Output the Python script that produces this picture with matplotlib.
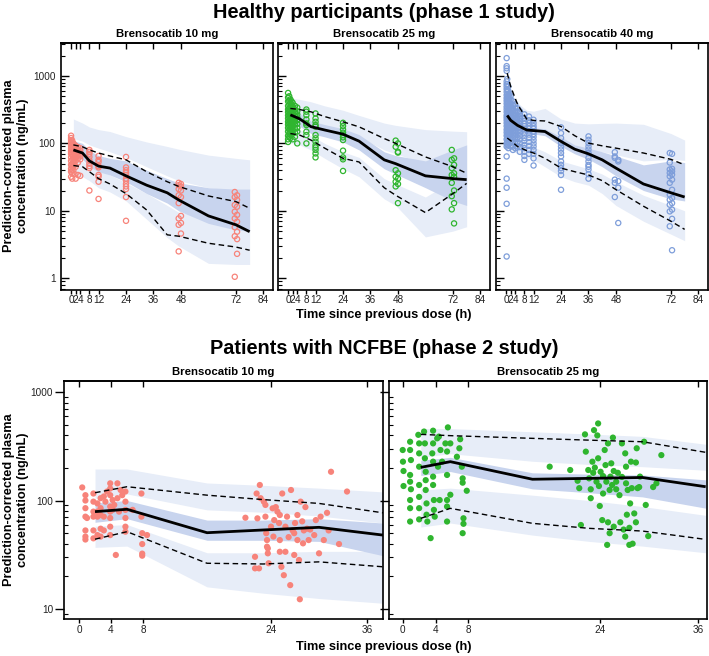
import numpy as np
import matplotlib
matplotlib.use("Agg")
import matplotlib.pyplot as plt
from matplotlib.ticker import LogLocator, NullFormatter

plt.rcParams['font.family'] = ['Liberation Sans', 'DejaVu Sans']

# colours
red = '#F7837A'
green = '#2FB52F'
blue = '#7E9EDA'
band_light = '#E7EDF8'
band_dark = '#C8D4EE'

# ---------------- healthy participants (phase 1) ----------------
# Brensocatib 10 mg
hp10_t = [1, 5, 8, 12, 17, 24, 33, 42, 47, 60, 72, 78]
hp10_med = [80, 72, 55, 46, 43, 33, 24, 18.5, 14.5, 8.4, 6.2, 4.9]
hp10_hi = [95, 89, 80, 72, 65, 57, 38, 27, 23, 16.6, 13.7, 10.9]
hp10_lo = [47, 45, 38, 30, 25, 18, 10.3, 4.4, 4.2, 3.3, 2.9, 2.6]
hp10_hiband_top = [230, 200, 175, 160, 150, 126, 105, 90, 82, 67, 60, 57]
hp10_hiband_bot = [118, 108, 95, 85, 75, 62, 45, 33, 28, 22, 20, 20]
hp10_medband_top = [110, 100, 78, 66, 60, 55, 40, 30, 26, 22, 21, 21]
hp10_medband_bot = [62, 58, 45, 38, 34, 27, 18, 13, 10, 6.5, 5.2, 5.0]
hp10_loband_top = [60, 55, 45, 40, 34, 26, 18, 12, 9.5, 8, 6, 5.2]
hp10_loband_bot = [34, 32, 28, 22, 19, 14, 7.5, 4, 3, 1.66, 1.6, 1.6]
hp10_obs_t = [0, 0.5, 1, 1.5, 2, 3, 4, 8, 12, 24, 47, 48, 71.5, 72.5]
hp10_obs_c = [
    [130, 120, 112, 105, 98, 92, 85, 80, 75, 70, 62, 55, 48, 42, 38, 32],
    [110, 95, 88, 78, 68, 58, 50, 45, 40, 36, 30],
    [100, 90, 82, 74, 66, 60, 52, 46, 40],
    [95, 86, 78, 72, 65, 56, 48, 35],
    [92, 84, 76, 70, 62, 55, 45, 30],
    [88, 80, 72, 66, 60, 52, 34],
    [85, 78, 70, 64, 58, 33],
    [80, 75, 70, 63, 56, 50, 46, 43, 20],
    [65, 57, 53, 46, 44, 34, 32, 27, 15],
    [63, 44, 40, 37, 34, 30, 28, 25, 23, 21, 16, 7.1],
    [26, 24, 21, 17, 13, 7.7, 6.2, 2.5],
    [25, 23, 20, 16, 8.4, 6.6, 4.6],
    [19, 16, 12.2, 9.7, 7.7, 5.7, 4.2, 1.05],
    [17, 14.5, 11.5, 8.7, 6.9, 4.9, 3.8, 2.3],
]

# Brensocatib 25 mg
hp25_t = [1, 5, 10, 16, 24, 31, 42, 47, 60, 72, 78]
hp25_med = [265, 232, 177, 158, 137, 108, 57, 50, 33, 30, 29]
hp25_hi = [330, 318, 294, 250, 209, 176, 118, 100, 63, 45, 36]
hp25_lo = [140, 133, 112, 85, 60, 53, 22, 17, 9.4, 18, 25.5]
hp25_hiband_top = [470, 450, 414, 360, 310, 260, 200, 185, 160, 152, 149]
hp25_hiband_bot = [250, 240, 215, 180, 150, 125, 80, 70, 50, 30, 25]
hp25_medband_top = [320, 280, 215, 190, 165, 135, 75, 66, 55, 80, 95]
hp25_medband_bot = [200, 180, 140, 125, 105, 80, 42, 35, 22, 14, 12]
hp25_loband_top = [170, 160, 130, 100, 75, 62, 30, 25, 16, 28, 35]
hp25_loband_bot = [100, 95, 80, 60, 42, 32, 15, 12, 4.1, 5, 5.8]
hp25_obs_t = [0, 0.5, 1, 1.5, 2, 3, 4, 8, 12, 24, 47, 48, 71.5, 72.5]
hp25_obs_c = [
    [560, 480, 420, 360, 320, 290, 260, 235, 210, 190, 170, 150, 130, 115, 105],
    [500, 430, 380, 330, 300, 270, 245, 220, 200, 180, 160, 140, 125],
    [450, 400, 350, 310, 280, 255, 230, 205, 185, 165, 145, 120],
    [420, 370, 330, 290, 265, 240, 215, 195, 175, 155, 135],
    [400, 350, 310, 280, 250, 225, 200, 180, 160, 140, 115],
    [360, 320, 290, 260, 235, 210, 190, 165, 145, 125],
    [340, 300, 270, 245, 220, 195, 170, 150, 100],
    [318, 295, 263, 227, 198, 187, 149, 133, 100],
    [278, 234, 209, 187, 177, 133, 119, 106, 94, 87, 80, 71, 62],
    [202, 181, 161, 144, 133, 123, 112, 78, 62, 58, 39],
    [110, 89, 40, 32, 27, 23],
    [100, 75, 73, 36, 30, 25, 13],
    [80, 57, 43, 34, 26, 16.5, 10.5],
    [60, 48, 36, 32, 20, 13, 6.5],
]

# Brensocatib 40 mg
hp40_t = [0.5, 2, 5, 9, 12, 17, 24, 30, 36, 42, 48, 60, 72, 78]
hp40_med = [260, 220, 185, 158, 155, 150, 107, 82, 70, 57, 43, 25, 18.5, 16]
hp40_hi = [1100, 700, 380, 230, 219, 215, 178, 130, 101, 92, 85, 72, 58, 48]
hp40_lo = [120, 110, 90, 78, 72, 60, 43, 38, 34, 28, 20.6, 11.7, 7.0, 5.3]
hp40_hiband_top = [600, 520, 400, 310, 300, 330, 230, 200, 195, 198, 200, 192, 140, 112]
hp40_hiband_bot = [300, 260, 200, 160, 150, 150, 120, 95, 80, 75, 68, 55, 58, 56]
hp40_medband_top = [290, 250, 210, 175, 170, 165, 125, 95, 85, 75, 65, 48, 55, 52]
hp40_medband_bot = [230, 195, 160, 140, 138, 130, 90, 70, 58, 45, 33, 20, 15, 14]
hp40_loband_top = [140, 130, 110, 95, 88, 75, 55, 48, 42, 35, 27, 17, 12, 10]
hp40_loband_bot = [90, 80, 70, 62, 57, 45, 32, 27, 24, 18, 12, 7, 4.5, 3.6]
hp40_obs_t = [0.25, 0.5, 1, 1.5, 2, 3, 4, 5, 6, 8, 10, 12, 24, 36, 47.5, 49, 71.5, 72.5]
hp40_obs_c = [
    [1840, 1400, 1300, 1190, 830, 760, 700, 640, 580, 520, 470, 430, 390, 350, 320,
     290, 260, 240, 220, 200, 180, 160, 145, 130, 115, 100, 90, 64, 30, 22, 12.7, 2.1],
    [900, 750, 620, 540, 480, 420, 380, 340, 300, 270, 245, 225, 205, 185, 165, 150,
     135, 120, 105, 95],
    [700, 600, 520, 460, 410, 370, 330, 300, 270, 245, 220, 200, 180, 160, 140, 125,
     110, 95, 85],
    [550, 480, 420, 380, 340, 300, 270, 245, 220, 200, 180, 160, 145, 130, 115, 100],
    [500, 440, 390, 350, 310, 280, 250, 225, 205, 185, 165, 150, 135, 120, 105, 90],
    [420, 370, 330, 300, 270, 245, 220, 200, 180, 165, 150, 135, 120, 105, 90, 80],
    [380, 340, 300, 270, 240, 220, 200, 180, 160, 145, 130, 115, 100, 85],
    [330, 290, 260, 235, 210, 190, 170, 150, 135, 120, 105, 90],
    [300, 270, 240, 215, 195, 175, 160, 145, 130, 115, 100, 88, 75],
    [270, 240, 215, 195, 180, 165, 150, 135, 120, 108, 95, 85, 75, 65, 57],
    [250, 220, 200, 180, 165, 150, 135, 120, 105, 92, 80, 70],
    [224, 200, 180, 165, 150, 138, 125, 112, 100, 90, 80, 70, 60, 47],
    [173, 142, 120, 101, 90, 81, 72, 64, 54, 48, 43, 39, 34, 20.5],
    [127, 113, 101, 90, 81, 72, 61, 54, 48, 45, 41, 35, 30],
    [74, 64, 61, 29, 26, 16],
    [57, 54, 27.5, 22, 6.6],
    [72, 52, 41, 36.5, 32.5, 26, 17.4, 14.6, 12.3, 9.8, 5.9],
    [70, 42, 38.5, 34.5, 29, 20.5, 15.5, 13, 10.4, 7.6, 2.6],
]

# ---------------- patients with NCFBE (phase 2) ----------------
# Brensocatib 10 mg
pt10_t = [2, 6, 16, 23, 30, 38]
pt10_med = [79, 83, 50.5, 53.5, 56.6, 48]
pt10_hi = [118, 134, 112, 102, 94, 77]
pt10_lo = [44, 51.6, 26.4, 26, 27.2, 24.5]
pt10_hiband_top = [195, 195, 145, 138, 130, 120]
pt10_hiband_bot = [105, 115, 82, 78, 72, 62]
pt10_medband_top = [95, 100, 66, 66, 68, 62]
pt10_medband_bot = [63, 68, 43, 43, 42, 31]
pt10_loband_top = [58, 60, 33, 33, 34, 34]
pt10_loband_bot = [37, 38, 16, 14, 12.5, 11.3]
pt10_obs_t = [0.4, 0.8, 0.8, 0.8, 0.8, 0.8, 0.8, 0.8, 1.0, 1.8, 1.8, 1.8, 1.8, 1.8,
              1.8, 2.3, 2.3, 2.3, 2.3, 2.7, 2.7, 2.7, 2.7, 2.7, 3.1, 3.1, 3.1, 3.3,
              3.5, 3.9, 3.9, 3.9, 3.9, 3.9, 3.9, 3.9, 3.9, 4.2, 4.2, 4.4, 4.6, 4.8,
              4.8, 5.0, 5.2, 5.4, 5.8, 5.8, 5.8, 5.8, 5.8, 5.8, 6.7, 7.8, 7.8, 7.9,
              7.9, 7.9, 7.9, 8.5,
              20.8, 22.3, 22.2, 22.6, 22.7, 23.1, 23.3, 23.3, 23.4, 23.5, 23.5, 23.6,
              23.6, 22.0, 22.0, 22.5, 23.7, 24.0, 24.2, 24.3, 24.4, 24.6, 24.8, 25.0,
              25.1, 25.1, 25.1, 25.3, 25.4, 25.6, 25.8, 25.8, 26.0, 26.2, 26.4, 26.5,
              26.7, 26.9, 26.9, 27.0, 27.3, 27.3, 27.5, 27.6, 27.7, 27.9, 28.0, 28.1,
              28.3, 28.5, 28.7, 28.9, 29.4, 29.6, 30.0, 30.2, 30.6, 31.0, 31.2, 31.5,
              32.5, 33.5]
pt10_obs_c = [132, 112, 100, 85, 71, 53, 46.5, 43.7, 69, 116, 97.6, 79, 71, 53, 44.8,
              94, 79, 71, 48, 105, 85, 73.5, 55, 46.5, 109, 71, 53, 97.6, 121, 144,
              129, 112, 88, 79, 69, 57.4, 48, 101, 82, 91, 31.5, 144, 105, 79, 125,
              112, 121, 97.6, 82, 69, 57.4, 51.6, 82, 116, 71, 50, 39.7, 32.4, 31, 48,
              69.4, 68.5, 116, 139, 105, 97.6, 91, 71, 50, 43.2, 37.5, 32.6, 36.2,
              30.3, 23.7, 23.7, 26.4, 57.4, 84.7, 46.5, 66, 87, 79, 62, 73.5, 43.2,
              33.7, 24.5, 116, 20.5, 57.4, 33.7, 71, 46, 16.6, 125, 53, 50, 31.5, 62,
              73.5, 43.2, 28.3, 12.3, 97.6, 64.3, 40.3, 53, 87, 55, 43.2, 54, 48, 66,
              32.6, 71, 43.2, 77, 53, 184, 39.7, 121]

# Brensocatib 25 mg
pt25_t = [2.2, 5.8, 15.8, 22.7, 29.2, 36.9]
pt25_med = [202, 228, 157, 160, 163, 134]
pt25_hi = [407, 396, 374, 360, 348, 278]
pt25_lo = [68.5, 84.7, 61.6, 55.4, 52.3, 43.8]
pt25_hiband_top = [460, 460, 430, 410, 390, 330]
pt25_hiband_bot = [250, 270, 230, 215, 205, 190]
pt25_medband_top = [235, 250, 180, 175, 172, 155]
pt25_medband_bot = [170, 185, 128, 118, 108, 85]
pt25_loband_top = [125, 130, 112, 100, 88, 73]
pt25_loband_bot = [57, 62, 48, 42, 38, 33]
pt25_obs_t = [0.0, 0.03, 0.1, 0.1, 0.9, 0.9, 1.0, 0.9, 0.9, 1.0, 0.9, 0.9, 0.9, 1.9,
              2.0, 2.0, 2.0, 2.0, 2.0, 2.0, 2.0, 2.6, 2.7, 2.7, 2.8, 2.8, 2.8, 2.9,
              2.9, 3.0, 3.4, 3.6, 3.7, 3.7, 3.7, 3.7, 3.7, 3.8, 3.8, 3.9, 4.2, 4.3,
              4.4, 4.5, 4.6, 4.8, 5.2, 5.4, 5.4, 5.4, 5.4, 5.4, 5.5, 5.8, 5.8, 6.6,
              6.9, 7.0, 7.2, 7.3, 7.3, 7.4, 7.4, 7.8, 7.3,
              17.9, 20.4, 21.7, 21.5, 21.3, 22.2, 22.3, 22.6, 22.7, 22.9, 22.9, 23.1,
              23.2, 23.3, 23.4, 23.6, 23.7, 23.8, 23.8, 23.9, 24.0, 24.1, 24.3, 24.4,
              24.4, 24.6, 24.7, 24.8, 24.9, 25.0, 25.0, 25.2, 25.2, 25.3, 25.4, 25.5,
              25.6, 25.7, 25.7, 26.0, 26.0, 26.2, 26.4, 26.5, 26.7, 26.7, 26.9, 27.1,
              27.1, 27.2, 27.2, 27.3, 27.4, 27.6, 27.6, 27.7, 27.8, 27.9, 28.0, 28.2,
              28.4, 28.4, 28.5, 28.6, 28.8, 28.9, 29.4, 29.6, 29.9, 30.5, 30.9, 31.5]
pt25_obs_c = [292, 228, 187, 136, 348, 292, 236, 172, 149, 127, 101, 85, 64, 403, 336,
              272, 205, 139, 108, 85, 67, 432, 336, 245, 184, 154, 125, 94, 74, 64, 45,
              272, 440, 336, 228, 166, 139, 101, 82, 71, 374, 205, 388, 101, 292, 228,
              336, 283, 172, 101, 88, 64, 472, 336, 113, 253, 303, 367, 205, 160, 146,
              61, 68.6, 123, 50,
              205, 191, 59.5, 130, 152, 407, 282, 191, 160, 127, 105, 228, 180, 445,
              201, 149, 398, 513, 245, 136, 89, 184, 66, 168, 116, 292, 212, 149, 39,
              336, 63, 50, 125, 166, 220, 139, 380, 187, 57.4, 149, 127, 180, 112, 63,
              336, 165, 54, 272, 46.5, 144, 205, 74, 125, 39, 56, 94, 228, 130, 40, 76,
              224, 63, 303, 130, 133, 166, 348, 91, 47, 133, 144, 262]

top_xticks = [0, 2, 4, 8, 12, 24, 36, 48, 72, 84]
bottom_xticks = [0, 4, 8, 24, 36]


def expand(times, groups):
    tt, cc = [], []
    for t, g in zip(times, groups):
        tt += [t] * len(g)
        cc += list(g)
    return tt, cc


def draw_vpc(ax, t, med, hi, lo, hb, mb, lb):
    ax.fill_between(t, hb[1], hb[0], color=band_light, lw=0, zorder=1)
    ax.fill_between(t, lb[1], lb[0], color=band_light, lw=0, zorder=1)
    ax.fill_between(t, mb[1], mb[0], color=band_dark, lw=0, zorder=1.5)


def draw_lines(ax, t, med, hi, lo):
    ax.plot(t, med, color='black', lw=2.0, zorder=5, solid_capstyle='butt')
    ax.plot(t, hi, color='black', lw=1.0, ls=(0, (4, 2.5)), zorder=5)
    ax.plot(t, lo, color='black', lw=1.0, ls=(0, (4, 2.5)), zorder=5)


def style_axes(ax, xticks, xlim, ylim, yticks, show_ylabels, top_row):
    ax.set_yscale('log')
    ax.set_xlim(*xlim)
    ax.set_ylim(*ylim)
    ax.set_xticks(xticks, labels=[str(v) for v in xticks])
    ax.set_yticks(yticks, labels=[str(v) for v in yticks])
    ax.yaxis.set_minor_locator(LogLocator(base=10, subs=np.arange(2, 10)))
    ax.yaxis.set_minor_formatter(NullFormatter())
    if top_row:
        ax.tick_params(axis='y', which='major', direction='in', length=6, width=1, pad=4,
                       labelsize=7.2, labelcolor='#222222')
    else:
        ax.tick_params(axis='y', which='major', direction='out', length=6.5, width=1, pad=1.5,
                       labelsize=7.2, labelcolor='#222222')
    ax.tick_params(axis='y', which='minor', direction='in', length=3, width=0.8)
    ax.tick_params(axis='x', direction='out', length=3, width=1, pad=1.2,
                   labelsize=7.2, labelcolor='#222222')
    ax.tick_params(right=False, labelleft=show_ylabels)
    sec = ax.secondary_xaxis('top')
    sec.set_xticks(xticks)
    sec.tick_params(direction='in', length=4.5, width=1, labeltop=False)
    for sp in list(ax.spines.values()) + list(sec.spines.values()):
        sp.set_linewidth(1.2)


fig = plt.figure(figsize=(7.09, 6.56), dpi=100)

W, H = 709, 656


def add_ax(x0, y0, x1, y1):
    return fig.add_axes([x0 / W, 1 - y1 / H, (x1 - x0) / W, (y1 - y0) / H])


top_panels = [
    (61, 273, 'Brensocatib 10 mg', red, hp10_t, hp10_med, hp10_hi, hp10_lo,
     (hp10_hiband_bot, hp10_hiband_top), (hp10_medband_bot, hp10_medband_top),
     (hp10_loband_bot, hp10_loband_top), hp10_obs_t, hp10_obs_c),
    (278, 490, 'Brensocatib 25 mg', green, hp25_t, hp25_med, hp25_hi, hp25_lo,
     (hp25_hiband_bot, hp25_hiband_top), (hp25_medband_bot, hp25_medband_top),
     (hp25_loband_bot, hp25_loband_top), hp25_obs_t, hp25_obs_c),
    (496, 708, 'Brensocatib 40 mg', blue, hp40_t, hp40_med, hp40_hi, hp40_lo,
     (hp40_hiband_bot, hp40_hiband_top), (hp40_medband_bot, hp40_medband_top),
     (hp40_loband_bot, hp40_loband_top), hp40_obs_t, hp40_obs_c),
]

for i, (x0, x1, title, col, t, med, hi, lo, hb, mb, lb, ot, oc) in enumerate(top_panels):
    ax = add_ax(x0, 43, x1, 289.5)
    draw_vpc(ax, t, med, hi, lo, hb, mb, lb)
    tt, cc = expand(ot, oc)
    ax.scatter(tt, cc, s=14, facecolors='none', edgecolors=col, linewidths=0.9, zorder=3)
    draw_lines(ax, t, med, hi, lo)
    style_axes(ax, top_xticks, (-4.4, 88.2), (0.68, 3085), [1, 10, 100, 1000], i == 0, True)
    ax.set_title(title, fontsize=8.2, fontweight='bold', pad=4)

bottom_panels = [
    (64.3, 382.7, (-1.84, 37.96), 'Brensocatib 10 mg', red, pt10_t, pt10_med, pt10_hi,
     pt10_lo, (pt10_hiband_bot, pt10_hiband_top), (pt10_medband_bot, pt10_medband_top),
     (pt10_loband_bot, pt10_loband_top), pt10_obs_t, pt10_obs_c),
    (389, 707, (-1.67, 37.06), 'Brensocatib 25 mg', green, pt25_t, pt25_med, pt25_hi,
     pt25_lo, (pt25_hiband_bot, pt25_hiband_top), (pt25_medband_bot, pt25_medband_top),
     (pt25_loband_bot, pt25_loband_top), pt25_obs_t, pt25_obs_c),
]

for i, (x0, x1, xl, title, col, t, med, hi, lo, hb, mb, lb, ot, oc) in enumerate(bottom_panels):
    ax = add_ax(x0, 380.7, x1, 619.3)
    draw_vpc(ax, t, med, hi, lo, hb, mb, lb)
    ax.scatter(ot, oc, s=20, color=col, edgecolors='none', zorder=3)
    draw_lines(ax, t, med, hi, lo)
    style_axes(ax, bottom_xticks, xl, (8.04, 1271), [10, 100, 1000], i == 0, False)
    ax.set_title(title, fontsize=8.2, fontweight='bold', pad=4)

# headings and axis labels
fig.text(383.5 / W, 1 - 17.5 / H, 'Healthy participants (phase 1 study)',
         ha='center', va='baseline', fontsize=14.3, fontweight='bold')
fig.text(384 / W, 1 - 354 / H, 'Patients with NCFBE (phase 2 study)',
         ha='center', va='baseline', fontsize=14.3, fontweight='bold')
for yb in (318.3, 650):
    fig.text(384 / W, 1 - yb / H, 'Time since previous dose (h)',
             ha='center', va='baseline', fontsize=9.2, fontweight='bold')
for yc in (166, 500):
    fig.text(16 / W, 1 - yc / H, 'Prediction-corrected plasma\nconcentration (ng/mL)',
             ha='center', va='center', rotation=90, fontsize=9.2, fontweight='bold',
             multialignment='center', linespacing=1.25)

fig.savefig('out.png', dpi=100)
